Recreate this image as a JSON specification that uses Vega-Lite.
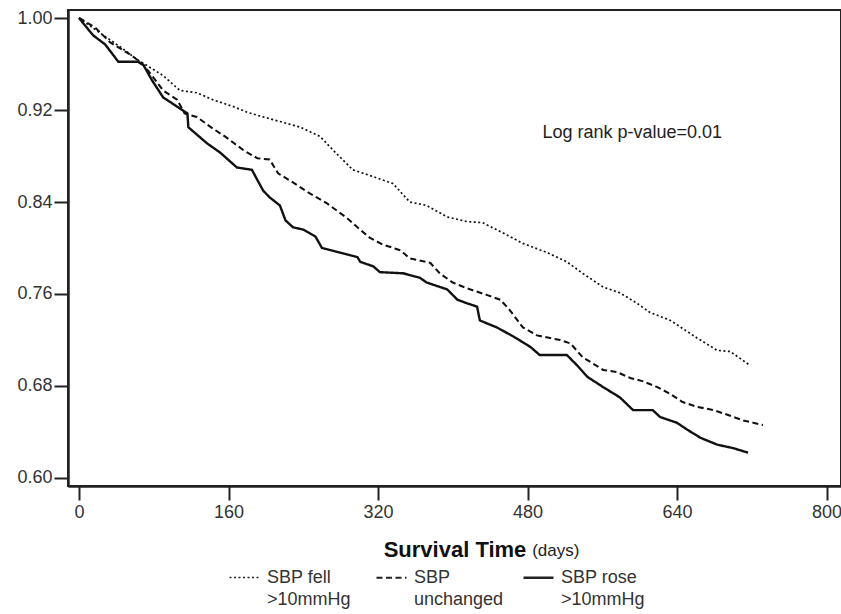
{
  "$schema": "https://vega.github.io/schema/vega-lite/v6.json",
  "width": 773,
  "height": 476,
  "autosize": {"type": "none"},
  "padding": {"left": 68, "top": 10, "right": 0, "bottom": 128},
  "background": "white",
  "config": {
    "font": "Liberation Sans",
    "view": {"stroke": "#222", "strokeWidth": 2},
    "axis": {"grid": false, "domainColor": "#222", "domainWidth": 2.5, "tickColor": "#222", "tickWidth": 2, "tickSize": 14, "labelFontSize": 18, "labelColor": "#333", "labelFont": "Liberation Sans"}
  },
  "datasets": {
    "curves": [
      {"group": "SBP fell|>10mmHg", "day": 0, "surv": 1.0},
      {"group": "SBP fell|>10mmHg", "day": 26, "surv": 0.985},
      {"group": "SBP fell|>10mmHg", "day": 44, "surv": 0.975},
      {"group": "SBP fell|>10mmHg", "day": 62, "surv": 0.964},
      {"group": "SBP fell|>10mmHg", "day": 76, "surv": 0.957},
      {"group": "SBP fell|>10mmHg", "day": 90, "surv": 0.95},
      {"group": "SBP fell|>10mmHg", "day": 108, "surv": 0.937},
      {"group": "SBP fell|>10mmHg", "day": 126, "surv": 0.935},
      {"group": "SBP fell|>10mmHg", "day": 143, "surv": 0.929},
      {"group": "SBP fell|>10mmHg", "day": 165, "surv": 0.923},
      {"group": "SBP fell|>10mmHg", "day": 180, "surv": 0.918},
      {"group": "SBP fell|>10mmHg", "day": 197, "surv": 0.914},
      {"group": "SBP fell|>10mmHg", "day": 215, "surv": 0.91},
      {"group": "SBP fell|>10mmHg", "day": 237, "surv": 0.905},
      {"group": "SBP fell|>10mmHg", "day": 258, "surv": 0.897},
      {"group": "SBP fell|>10mmHg", "day": 272, "surv": 0.885},
      {"group": "SBP fell|>10mmHg", "day": 293, "surv": 0.868},
      {"group": "SBP fell|>10mmHg", "day": 315, "surv": 0.862},
      {"group": "SBP fell|>10mmHg", "day": 336, "surv": 0.856},
      {"group": "SBP fell|>10mmHg", "day": 354, "surv": 0.84},
      {"group": "SBP fell|>10mmHg", "day": 372, "surv": 0.837},
      {"group": "SBP fell|>10mmHg", "day": 394, "surv": 0.827},
      {"group": "SBP fell|>10mmHg", "day": 415, "surv": 0.823},
      {"group": "SBP fell|>10mmHg", "day": 432, "surv": 0.822},
      {"group": "SBP fell|>10mmHg", "day": 454, "surv": 0.813},
      {"group": "SBP fell|>10mmHg", "day": 475, "surv": 0.804},
      {"group": "SBP fell|>10mmHg", "day": 501, "surv": 0.796},
      {"group": "SBP fell|>10mmHg", "day": 522, "surv": 0.788},
      {"group": "SBP fell|>10mmHg", "day": 539, "surv": 0.778},
      {"group": "SBP fell|>10mmHg", "day": 561, "surv": 0.766},
      {"group": "SBP fell|>10mmHg", "day": 579, "surv": 0.761},
      {"group": "SBP fell|>10mmHg", "day": 597, "surv": 0.752},
      {"group": "SBP fell|>10mmHg", "day": 611, "surv": 0.744},
      {"group": "SBP fell|>10mmHg", "day": 633, "surv": 0.737},
      {"group": "SBP fell|>10mmHg", "day": 661, "surv": 0.722},
      {"group": "SBP fell|>10mmHg", "day": 683, "surv": 0.711},
      {"group": "SBP fell|>10mmHg", "day": 697, "surv": 0.71},
      {"group": "SBP fell|>10mmHg", "day": 718, "surv": 0.698},
      {"group": "SBP|unchanged", "day": 0, "surv": 1.0},
      {"group": "SBP|unchanged", "day": 17, "surv": 0.992},
      {"group": "SBP|unchanged", "day": 33, "surv": 0.979},
      {"group": "SBP|unchanged", "day": 55, "surv": 0.968},
      {"group": "SBP|unchanged", "day": 67, "surv": 0.961},
      {"group": "SBP|unchanged", "day": 78, "surv": 0.95},
      {"group": "SBP|unchanged", "day": 90, "surv": 0.937},
      {"group": "SBP|unchanged", "day": 105, "surv": 0.929},
      {"group": "SBP|unchanged", "day": 113, "surv": 0.917},
      {"group": "SBP|unchanged", "day": 126, "surv": 0.914},
      {"group": "SBP|unchanged", "day": 143, "surv": 0.904},
      {"group": "SBP|unchanged", "day": 158, "surv": 0.896},
      {"group": "SBP|unchanged", "day": 176, "surv": 0.885},
      {"group": "SBP|unchanged", "day": 191, "surv": 0.878},
      {"group": "SBP|unchanged", "day": 204, "surv": 0.877},
      {"group": "SBP|unchanged", "day": 213, "surv": 0.865},
      {"group": "SBP|unchanged", "day": 229, "surv": 0.857},
      {"group": "SBP|unchanged", "day": 244, "surv": 0.849},
      {"group": "SBP|unchanged", "day": 265, "surv": 0.839},
      {"group": "SBP|unchanged", "day": 287, "surv": 0.826},
      {"group": "SBP|unchanged", "day": 298, "surv": 0.818},
      {"group": "SBP|unchanged", "day": 311, "surv": 0.809},
      {"group": "SBP|unchanged", "day": 325, "surv": 0.803},
      {"group": "SBP|unchanged", "day": 344, "surv": 0.798},
      {"group": "SBP|unchanged", "day": 354, "surv": 0.791},
      {"group": "SBP|unchanged", "day": 376, "surv": 0.787},
      {"group": "SBP|unchanged", "day": 386, "surv": 0.778},
      {"group": "SBP|unchanged", "day": 400, "surv": 0.77},
      {"group": "SBP|unchanged", "day": 415, "surv": 0.765},
      {"group": "SBP|unchanged", "day": 437, "surv": 0.759},
      {"group": "SBP|unchanged", "day": 451, "surv": 0.755},
      {"group": "SBP|unchanged", "day": 461, "surv": 0.746},
      {"group": "SBP|unchanged", "day": 475, "surv": 0.731},
      {"group": "SBP|unchanged", "day": 490, "surv": 0.724},
      {"group": "SBP|unchanged", "day": 515, "surv": 0.72},
      {"group": "SBP|unchanged", "day": 526, "surv": 0.717},
      {"group": "SBP|unchanged", "day": 539, "surv": 0.705},
      {"group": "SBP|unchanged", "day": 561, "surv": 0.694},
      {"group": "SBP|unchanged", "day": 576, "surv": 0.692},
      {"group": "SBP|unchanged", "day": 590, "surv": 0.687},
      {"group": "SBP|unchanged", "day": 604, "surv": 0.684},
      {"group": "SBP|unchanged", "day": 619, "surv": 0.679},
      {"group": "SBP|unchanged", "day": 633, "surv": 0.673},
      {"group": "SBP|unchanged", "day": 646, "surv": 0.666},
      {"group": "SBP|unchanged", "day": 661, "surv": 0.662},
      {"group": "SBP|unchanged", "day": 679, "surv": 0.659},
      {"group": "SBP|unchanged", "day": 694, "surv": 0.655},
      {"group": "SBP|unchanged", "day": 711, "surv": 0.65},
      {"group": "SBP|unchanged", "day": 732, "surv": 0.646},
      {"group": "SBP rose|>10mmHg", "day": 0, "surv": 1.0},
      {"group": "SBP rose|>10mmHg", "day": 10, "surv": 0.99},
      {"group": "SBP rose|>10mmHg", "day": 15, "surv": 0.985},
      {"group": "SBP rose|>10mmHg", "day": 28, "surv": 0.977},
      {"group": "SBP rose|>10mmHg", "day": 42, "surv": 0.962},
      {"group": "SBP rose|>10mmHg", "day": 63, "surv": 0.962},
      {"group": "SBP rose|>10mmHg", "day": 69, "surv": 0.959},
      {"group": "SBP rose|>10mmHg", "day": 78, "surv": 0.946},
      {"group": "SBP rose|>10mmHg", "day": 90, "surv": 0.931},
      {"group": "SBP rose|>10mmHg", "day": 103, "surv": 0.924},
      {"group": "SBP rose|>10mmHg", "day": 116, "surv": 0.917},
      {"group": "SBP rose|>10mmHg", "day": 117, "surv": 0.905},
      {"group": "SBP rose|>10mmHg", "day": 137, "surv": 0.891},
      {"group": "SBP rose|>10mmHg", "day": 151, "surv": 0.883},
      {"group": "SBP rose|>10mmHg", "day": 169, "surv": 0.87},
      {"group": "SBP rose|>10mmHg", "day": 185, "surv": 0.868},
      {"group": "SBP rose|>10mmHg", "day": 197, "surv": 0.85},
      {"group": "SBP rose|>10mmHg", "day": 204, "surv": 0.844},
      {"group": "SBP rose|>10mmHg", "day": 215, "surv": 0.837},
      {"group": "SBP rose|>10mmHg", "day": 221, "surv": 0.824},
      {"group": "SBP rose|>10mmHg", "day": 229, "surv": 0.818},
      {"group": "SBP rose|>10mmHg", "day": 240, "surv": 0.816},
      {"group": "SBP rose|>10mmHg", "day": 253, "surv": 0.81},
      {"group": "SBP rose|>10mmHg", "day": 260, "surv": 0.8},
      {"group": "SBP rose|>10mmHg", "day": 279, "surv": 0.796},
      {"group": "SBP rose|>10mmHg", "day": 298, "surv": 0.792},
      {"group": "SBP rose|>10mmHg", "day": 301, "surv": 0.788},
      {"group": "SBP rose|>10mmHg", "day": 315, "surv": 0.784},
      {"group": "SBP rose|>10mmHg", "day": 322, "surv": 0.779},
      {"group": "SBP rose|>10mmHg", "day": 347, "surv": 0.778},
      {"group": "SBP rose|>10mmHg", "day": 365, "surv": 0.774},
      {"group": "SBP rose|>10mmHg", "day": 372, "surv": 0.77},
      {"group": "SBP rose|>10mmHg", "day": 394, "surv": 0.764},
      {"group": "SBP rose|>10mmHg", "day": 405, "surv": 0.755},
      {"group": "SBP rose|>10mmHg", "day": 415, "surv": 0.752},
      {"group": "SBP rose|>10mmHg", "day": 426, "surv": 0.749},
      {"group": "SBP rose|>10mmHg", "day": 429, "surv": 0.737},
      {"group": "SBP rose|>10mmHg", "day": 447, "surv": 0.731},
      {"group": "SBP rose|>10mmHg", "day": 465, "surv": 0.723},
      {"group": "SBP rose|>10mmHg", "day": 483, "surv": 0.714},
      {"group": "SBP rose|>10mmHg", "day": 493, "surv": 0.707},
      {"group": "SBP rose|>10mmHg", "day": 522, "surv": 0.707},
      {"group": "SBP rose|>10mmHg", "day": 533, "surv": 0.698},
      {"group": "SBP rose|>10mmHg", "day": 544, "surv": 0.688},
      {"group": "SBP rose|>10mmHg", "day": 561, "surv": 0.679},
      {"group": "SBP rose|>10mmHg", "day": 579, "surv": 0.67},
      {"group": "SBP rose|>10mmHg", "day": 593, "surv": 0.659},
      {"group": "SBP rose|>10mmHg", "day": 614, "surv": 0.659},
      {"group": "SBP rose|>10mmHg", "day": 622, "surv": 0.653},
      {"group": "SBP rose|>10mmHg", "day": 640, "surv": 0.648},
      {"group": "SBP rose|>10mmHg", "day": 651, "surv": 0.642},
      {"group": "SBP rose|>10mmHg", "day": 665, "surv": 0.635},
      {"group": "SBP rose|>10mmHg", "day": 683, "surv": 0.629},
      {"group": "SBP rose|>10mmHg", "day": 700, "surv": 0.626},
      {"group": "SBP rose|>10mmHg", "day": 716, "surv": 0.622}
    ],
    "notes": [
      {"day": 496, "surv": 0.9, "label": "Log rank p-value=0.01"}
    ],
    "unit": [
      {"day": 485, "surv": 0.532, "label": "(days)"}
    ]
  },
  "encoding": {
    "x": {
      "field": "day", "type": "quantitative",
      "scale": {"domain": [-11.8, 815.5], "nice": false, "zero": false},
      "axis": {"values": [0, 160, 320, 480, 640, 800], "title": "Survival Time", "titleFontSize": 22, "titleFontWeight": "bold", "titleColor": "#111", "titleBaseline": "alphabetic", "titleY": 70, "labelPadding": 3, "labelFlush": false, "labelOverlap": false}
    },
    "y": {
      "field": "surv", "type": "quantitative",
      "scale": {"domain": [0.59304, 1.00696], "nice": false, "zero": false},
      "axis": {"values": [0.6, 0.68, 0.76, 0.84, 0.92, 1.0], "format": ".2f", "title": null, "labelPadding": 2}
    }
  },
  "layer": [
    {
      "data": {"name": "curves"},
      "mark": {"type": "line", "interpolate": "linear", "color": "#111"},
      "encoding": {
        "strokeDash": {
          "field": "group", "type": "nominal",
          "scale": {"domain": ["SBP fell|>10mmHg", "SBP|unchanged", "SBP rose|>10mmHg"], "range": [[2, 2.5], [6, 3.5], [1, 0]]},
          "legend": {
            "title": null, "orient": "none", "legendX": 160, "legendY": 551,
            "direction": "horizontal", "columns": 3, "gridAlign": "all", "columnPadding": 14,
            "symbolType": "stroke", "symbolSize": 900, "symbolStrokeWidth": 2.2, "symbolStrokeColor": "#222",
            "labelFontSize": 18, "labelColor": "#333", "labelOffset": 6, "labelBaseline": "top",
            "labelExpr": "split(datum.label, '|')",
            "encode": {"labels": {"update": {"dy": {"value": -9}, "lineHeight": {"value": 22}}}}
          }
        },
        "strokeWidth": {
          "field": "group", "type": "nominal",
          "scale": {"domain": ["SBP fell|>10mmHg", "SBP|unchanged", "SBP rose|>10mmHg"], "range": [1.7, 2.4, 2.4]},
          "legend": null
        }
      }
    },
    {
      "data": {"name": "notes"},
      "mark": {"type": "text", "align": "left", "baseline": "middle", "fontSize": 18, "color": "#222"},
      "encoding": {"text": {"field": "label"}}
    },
    {
      "data": {"name": "unit"},
      "mark": {"type": "text", "align": "left", "baseline": "alphabetic", "fontSize": 17, "color": "#222"},
      "encoding": {"text": {"field": "label"}}
    }
  ]
}
